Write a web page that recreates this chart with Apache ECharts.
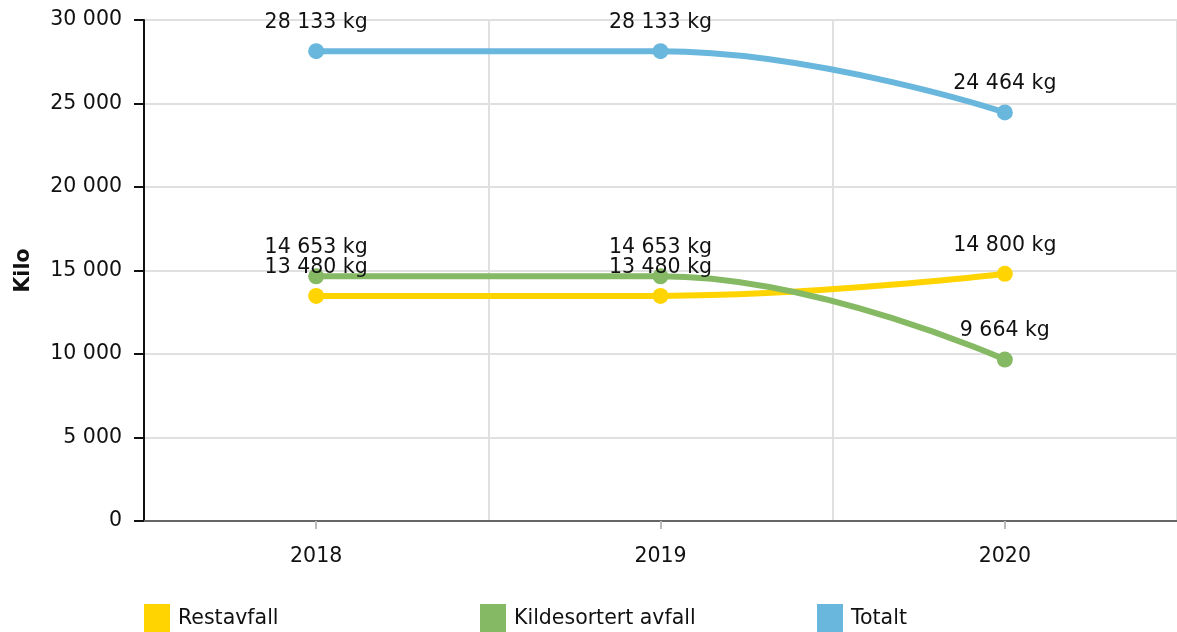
<!DOCTYPE html>
<html>
<head>
<meta charset="utf-8">
<script src="https://cdn.jsdelivr.net/npm/echarts@6/dist/echarts.min.js"></script>
<style>
  html, body { margin: 0; padding: 0; background: #fff; }
  #chart { width: 1177px; height: 632px; }
</style>
</head>
<body>
<div id="chart"></div>
<script>
const years = ['2018', '2019', '2020'];
const restavfall = [13480, 13480, 14800];
const kildesortert = [14653, 14653, 9664];
const totalt = [28133, 28133, 24464];

const font = 'DejaVu Sans';
const fs = 20.5;

// thousands with space, like "28 133"
function fmt(v) {
    return String(v).replace(/\B(?=(\d{3})+(?!\d))/g, ' ');
}

function makeSeries(name, data, color) {
    return {
        name: name,
        type: 'line',
        data: data,
        smooth: 0.45,
        symbol: 'circle',
        symbolSize: 16,
        lineStyle: { width: 6, color: color },
        itemStyle: { color: color },
        label: {
            show: true,
            position: 'top',
            distance: 10,
            fontFamily: font,
            fontSize: fs,
            color: '#111',
            formatter: p => fmt(p.value) + ' kg'
        }
    };
}

const chart = echarts.init(document.getElementById('chart'));
chart.setOption({
    animation: false,
    grid: { left: 144, right: 0, top: 20, bottom: 111 },
    legend: [
        { data: ['Restavfall'], left: 144, top: 604 },
        { data: ['Kildesortert avfall'], left: 480, top: 604 },
        { data: ['Totalt'], left: 817, top: 604 }
    ].map(l => Object.assign(l, {
        padding: 0,
        icon: 'rect',
        itemWidth: 26,
        itemHeight: 30,
        textStyle: { fontFamily: font, fontSize: fs, color: '#111', padding: [0, 0, 0, 3] }
    })),
    xAxis: {
        type: 'category',
        data: years,
        axisLine: { lineStyle: { color: '#666', width: 2 } },
        axisTick: { show: true, alignWithLabel: true, length: 8, lineStyle: { color: '#bbb', width: 2 } },
        axisLabel: { fontFamily: font, fontSize: fs, color: '#111', margin: 25 },
        splitLine: { show: true, lineStyle: { color: '#e0e0e0', width: 2 } }
    },
    yAxis: {
        type: 'value',
        min: 0,
        max: 30000,
        interval: 5000,
        name: 'Kilo',
        nameLocation: 'middle',
        nameGap: 110,
        nameTextStyle: { fontFamily: font, fontSize: fs, fontWeight: 'bold', color: '#111' },
        axisLine: { show: true, lineStyle: { color: '#111', width: 2 } },
        axisTick: { show: true, length: 10, lineStyle: { color: '#111', width: 2 } },
        axisLabel: { fontFamily: font, fontSize: fs, color: '#111', margin: 22, formatter: v => fmt(v) },
        splitLine: { lineStyle: { color: '#e0e0e0', width: 2 } }
    },
    series: [
        makeSeries('Restavfall', restavfall, '#ffd400'),
        makeSeries('Kildesortert avfall', kildesortert, '#86b964'),
        makeSeries('Totalt', totalt, '#6ab7de')
    ]
});
</script>
</body>
</html>
